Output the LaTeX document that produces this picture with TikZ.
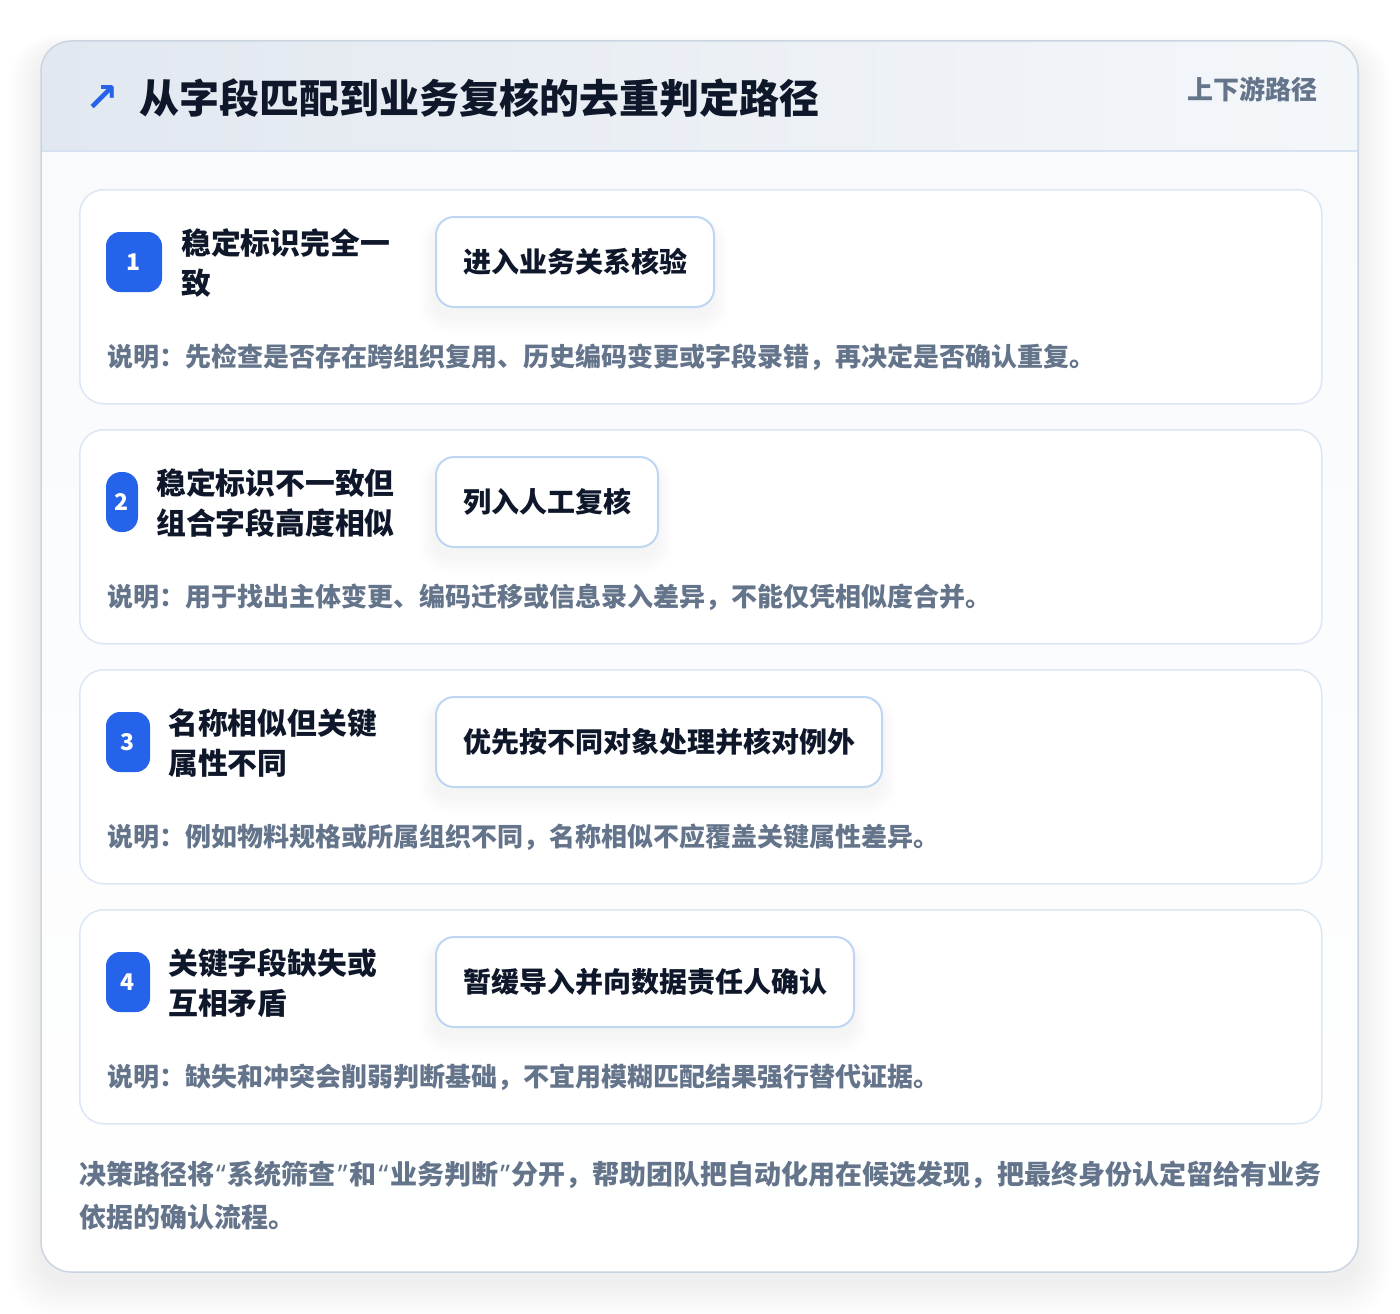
\documentclass[tikz,border=0pt]{standalone}
\usepackage{fontspec}
\setmainfont{Noto Sans CJK SC}
\newfontfamily\symfont{DejaVu Sans}
\newfontfamily\latinq{Noto Sans}
\newcommand{\openq}{\kern2pt{\latinq\bfseries “}\kern2pt}
\newcommand{\closeq}{\kern2pt{\latinq\bfseries ”}\kern2pt}
\definecolor{badge}{HTML}{2563EB}
\definecolor{ink}{HTML}{0F172A}
\definecolor{slate}{HTML}{64748B}
\definecolor{rowborder}{HTML}{DCE7F5}
\definecolor{pillborder}{HTML}{BFD6F2}
\definecolor{cardborder}{HTML}{CBD5E1}
\definecolor{hdrL}{HTML}{E2E8F0}
\definecolor{hdrR}{HTML}{F4F7FA}
\definecolor{hdrline}{HTML}{D6E2F2}
\definecolor{bodytop}{HTML}{F8FAFC}
\tikzset{
  rowcard/.style={draw=rowborder, line width=1.5pt, fill=white, rounded corners=24pt, anchor=north west, minimum width=1242pt, minimum height=214pt},
  badgebox/.style={fill=badge, text=white, font=\fontsize{23}{23}\selectfont\bfseries, minimum height=60pt, inner sep=0pt},
  headtext/.style={anchor=west, inner sep=0pt, align=left, text=ink, font=\fontsize{29.8}{40.5}\selectfont\bfseries},
  pill/.style={draw=pillborder, line width=2pt, fill=white, rounded corners=18pt, anchor=west, minimum height=90pt, inner xsep=27pt, inner ysep=0pt, text=ink, font=\fontsize{28}{28}\selectfont\bfseries},
  desc/.style={anchor=west, inner sep=0pt, text=slate, font=\fontsize{26}{26}\selectfont\bfseries},
  foot/.style={anchor=west, inner sep=0pt, text=slate, font=\fontsize{27}{27}\selectfont\bfseries},
}
\begin{document}
\begin{tikzpicture}[x=1pt,y=-1pt]
\useasboundingbox (0,0) rectangle (1400,1314);
\fill[white] (0,0) rectangle (1400,1314);
% card shadow
\foreach \i in {1,...,16}{
  \fill[black, opacity=0.0045, rounded corners=30pt+\i pt] (41-\i*2, 41-\i*1+10) rectangle (1358+\i*2, 1272+\i*2.2+10);
}
% card
\fill[bodytop, rounded corners=30pt] (41,41) rectangle (1358,1272);
\begin{scope}
  \clip[rounded corners=30pt] (41,41) rectangle (1358,1272);
  \shade[top color=bodytop, bottom color=white] (41,151) rectangle (1358,1272);
  \shade[left color=hdrL, right color=hdrR] (41,41) rectangle (1358,151);
\end{scope}
\draw[hdrline, line width=1.5pt] (41,151) -- (1358,151);
\draw[cardborder, line width=1.5pt, rounded corners=30pt] (41,41) rectangle (1358,1272);
% header
\node[anchor=center, inner sep=0pt, text=badge, font=\symfont\bfseries\fontsize{40}{40}\selectfont] (icon) at (102,99) {↗};
\node[anchor=west, inner sep=0pt, text=ink, font=\fontsize{40}{40}\selectfont\bfseries] (title) at (139,98) {从字段匹配到业务复核的去重判定路径};
\node[anchor=east, inner sep=0pt, text=slate, font=\fontsize{26}{26}\selectfont\bfseries] (tag) at (1318,89) {上下游路径};
% rows
\node[rowcard] (r1) at (79,189) {};
\node[rowcard] (r2) at (79,429) {};
\node[rowcard] (r3) at (79,669) {};
\node[rowcard] (r4) at (79,909) {};
% badges
\node[badgebox, minimum width=56pt, rounded corners=14pt] (b1) at (134,262) {1};
\node[badgebox, minimum width=32pt, rounded corners=15pt] (b2) at (122,502) {2};
\node[badgebox, minimum width=44pt, rounded corners=14pt] (b3) at (128,742) {3};
\node[badgebox, minimum width=44pt, rounded corners=14pt] (b4) at (128,982) {4};
% headings
\node[headtext] (h1) at (181,263) {稳定标识完全一\\致};
\node[headtext] (h2) at (156,503) {稳定标识不一致但\\组合字段高度相似};
\node[headtext] (h3) at (168,743) {名称相似但关键\\属性不同};
\node[headtext] (h4) at (168,983) {关键字段缺失或\\互相矛盾};
% pill shadows
\foreach \y/\w in {262/278, 502/222, 742/446, 982/418}{
  \foreach \i in {1,...,10}{
    \fill[black, opacity=0.005, rounded corners=18pt+\i pt] (435-\i*1.6, \y-45-\i*0.8+9) rectangle (435+\w+\i*1.6, \y+45+\i*1.8+9);
  }
}
% pills
\node[pill] (p1) at (435,262) {进入业务关系核验};
\node[pill] (p2) at (435,502) {列入人工复核};
\node[pill] (p3) at (435,742) {优先按不同对象处理并核对例外};
\node[pill] (p4) at (435,982) {暂缓导入并向数据责任人确认};
% descriptions
\node[desc] (d1) at (107,357) {说明：先检查是否存在跨组织复用、历史编码变更或字段录错，再决定是否确认重复。};
\node[desc] (d2) at (107,597) {说明：用于找出主体变更、编码迁移或信息录入差异，不能仅凭相似度合并。};
\node[desc] (d3) at (107,837) {说明：例如物料规格或所属组织不同，名称相似不应覆盖关键属性差异。};
\node[desc] (d4) at (107,1077) {说明：缺失和冲突会削弱判断基础，不宜用模糊匹配结果强行替代证据。};
% footer
\node[foot] (f1) at (79,1175) {决策路径将\openq 系统筛查\closeq 和\openq 业务判断\closeq 分开，帮助团队把自动化用在候选发现，把最终身份认定留给有业务};
\node[foot] (f2) at (79,1217) {依据的确认流程。};
\end{tikzpicture}
\end{document}
